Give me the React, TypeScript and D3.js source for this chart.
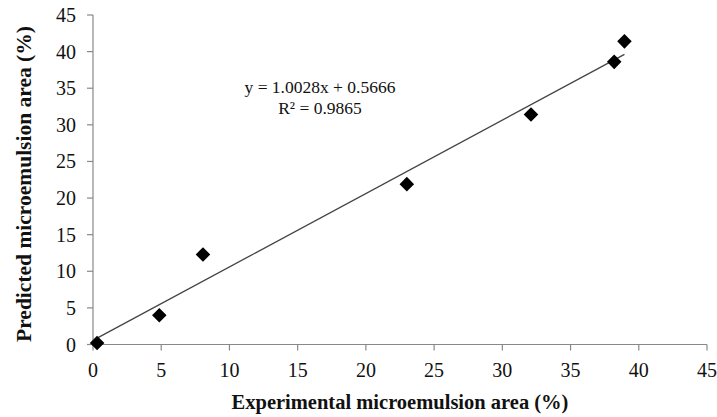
import React from "react";
import * as d3 from "d3";

const experimental = [0.3, 4.86, 8.06, 23.0, 32.1, 38.2, 38.95];
const predicted = [0.2, 4.0, 12.3, 21.9, 31.4, 38.6, 41.4];
const xTicks = [0, 5, 10, 15, 20, 25, 30, 35, 40, 45];
const yTicks = [0, 5, 10, 15, 20, 25, 30, 35, 40, 45];
const slope = 1.0028;
const intercept = 0.5666;
const equationText = "y = 1.0028x + 0.5666";
const r2Text = "R² = 0.9865";

const W = 717;
const H = 417;
const font = "'Liberation Serif', 'Times New Roman', serif";

export default function App() {
  const x = d3.scaleLinear().domain([0, 45]).range([93, 707]);
  const y = d3.scaleLinear().domain([0, 45]).range([344.5, 15]);
  const axisColor = "#898989";

  const xMin = d3.min(experimental) as number;
  const xMax = d3.max(experimental) as number;
  const line = d3
    .line<number>()
    .x((d) => x(d))
    .y((d) => y(slope * d + intercept));

  const diamond = d3.symbol().type(d3.symbolDiamond2).size(135)();

  return (
    <svg
      width={W}
      height={H}
      style={{ position: "absolute", left: 0, top: 0, background: "#fff" }}
    >
      {/* axes */}
      <line x1={x(0)} x2={x(0)} y1={y(45)} y2={y(0)} stroke={axisColor} strokeWidth={1.2} />
      <line x1={x(0)} x2={x(45)} y1={y(0)} y2={y(0)} stroke={axisColor} strokeWidth={1.2} />
      {yTicks.map((t) => (
        <g key={"y" + t}>
          <line x1={x(0) - 6} x2={x(0)} y1={y(t)} y2={y(t)} stroke={axisColor} strokeWidth={1.2} />
          <text
            x={x(0) - 17}
            y={y(t)}
            dy="0.35em"
            textAnchor="end"
            fontFamily={font}
            fontSize={20}
            fill="#111"
          >
            {t}
          </text>
        </g>
      ))}
      {xTicks.map((t) => (
        <g key={"x" + t}>
          <line x1={x(t)} x2={x(t)} y1={y(0)} y2={y(0) + 6} stroke={axisColor} strokeWidth={1.2} />
          <text
            x={x(t)}
            y={y(0) + 32}
            textAnchor="middle"
            fontFamily={font}
            fontSize={20}
            fill="#111"
          >
            {t}
          </text>
        </g>
      ))}

      {/* trend line */}
      <path d={line([xMin, xMax]) || ""} fill="none" stroke="#444" strokeWidth={1.3} />

      {/* data points */}
      {experimental.map((v, i) => (
        <path
          key={i}
          d={diamond || ""}
          transform={`translate(${x(v)},${y(predicted[i])})`}
          fill="#000"
        />
      ))}

      {/* fit equation */}
      <text x={320} y={93} textAnchor="middle" fontFamily={font} fontSize={17.5} fill="#111">
        {equationText}
      </text>
      <text x={320} y={114} textAnchor="middle" fontFamily={font} fontSize={17.5} fill="#111">
        {r2Text}
      </text>

      {/* axis titles */}
      <text
        x={400}
        y={409}
        textAnchor="middle"
        fontFamily={font}
        fontSize={20.5}
        fontWeight="bold"
        fill="#111"
      >
        Experimental microemulsion area (%)
      </text>
      <text
        transform={`translate(31,${184}) rotate(-90)`}
        textAnchor="middle"
        fontFamily={font}
        fontSize={21.5}
        fontWeight="bold"
        fill="#111"
      >
        Predicted microemulsion area (%)
      </text>
    </svg>
  );
}
